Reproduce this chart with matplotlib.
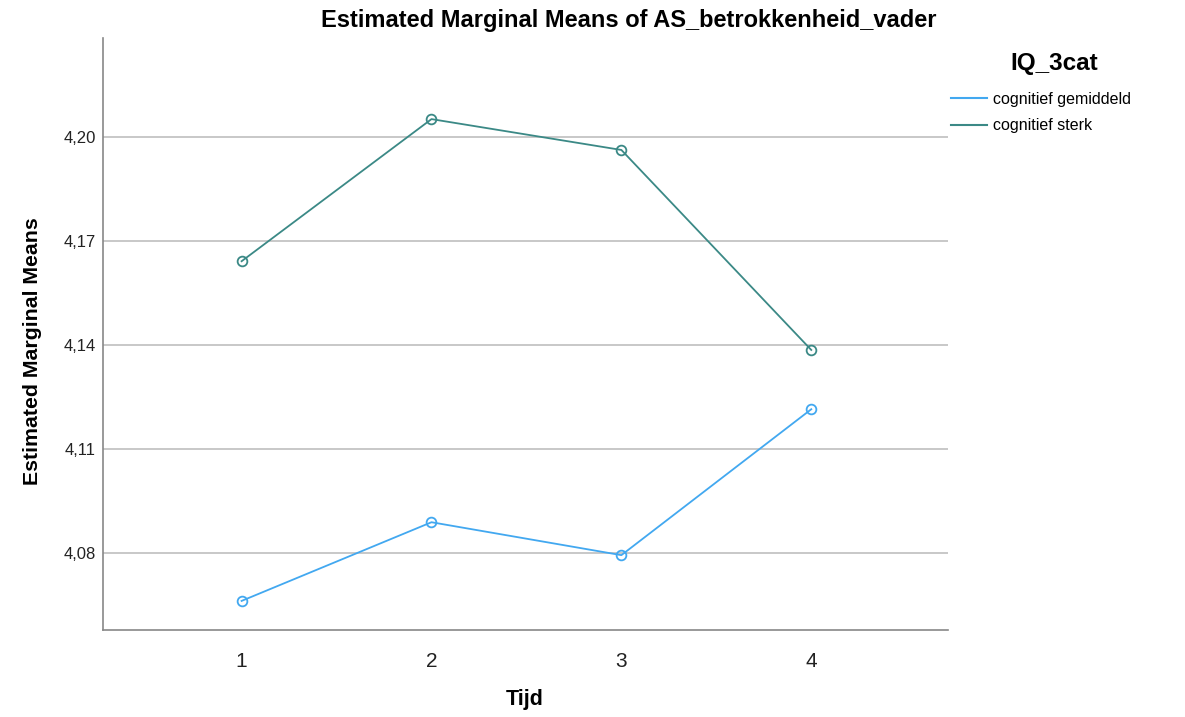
import matplotlib

matplotlib.use("Agg")
import matplotlib.pyplot as plt
from matplotlib.lines import Line2D
from matplotlib.ticker import FuncFormatter

plt.rcParams["font.family"] = ["Liberation Sans", "DejaVu Sans"]

tijd = [1, 2, 3, 4]
gemiddeld = [4.0662, 4.0889, 4.0794, 4.1215]
sterk = [4.1642, 4.2052, 4.1963, 4.1386]
y_ticks = [4.08, 4.11, 4.14, 4.17, 4.20]

series = [
    ("cognitief gemiddeld", gemiddeld, "#42a8f0"),
    ("cognitief sterk", sterk, "#3b8986"),
]

fig = plt.figure(figsize=(11.85, 7.17), dpi=100)
ax = fig.add_axes([0.0869, 0.1213, 0.7131, 0.8257])

handles = []
for label, values, color in series:
    ax.plot(
        tijd,
        values,
        color=color,
        linewidth=1.3,
        marker="o",
        markersize=7,
        markerfacecolor="none",
        markeredgecolor=color,
        markeredgewidth=1.3,
    )
    handles.append(Line2D([], [], color=color, linewidth=1.5, label=label))

ax.set_xlim(0.27, 4.72)
ax.set_ylim(4.0578, 4.2286)
ax.set_xticks(tijd)
ax.set_yticks(y_ticks)
ax.yaxis.set_major_formatter(FuncFormatter(lambda v, _: f"{v:.2f}".replace(".", ",")))
ax.tick_params(axis="both", length=0, colors="#222222")
ax.tick_params(axis="x", labelsize=15, pad=16)
ax.tick_params(axis="y", labelsize=12, pad=5)
ax.grid(axis="y", color="#c8c8c8", linewidth=1.4)
ax.set_axisbelow(True)

for side in ["top", "right"]:
    ax.spines[side].set_visible(False)
for side in ["left", "bottom"]:
    ax.spines[side].set_color("#888888")
    ax.spines[side].set_linewidth(1.2)

fig.text(
    0.531,
    0.972,
    "Estimated Marginal Means of AS_betrokkenheid_vader",
    fontsize=17,
    fontweight="bold",
    ha="center",
    va="center",
)
ax.set_xlabel("Tijd", fontsize=15.5, fontweight="bold", va="center")
ax.xaxis.set_label_coords(0.4995, -0.118)
ax.set_ylabel("Estimated Marginal Means", fontsize=15.3, fontweight="bold", va="center")
ax.yaxis.set_label_coords(-0.083, 0.471)

fig.text(0.890, 0.912, "IQ_3cat", fontsize=17.5, fontweight="bold", ha="center", va="center")
fig.legend(
    handles=handles,
    loc="upper left",
    bbox_to_anchor=(0.8025, 0.872),
    frameon=False,
    fontsize=11.5,
    handlelength=2.25,
    handletextpad=0.4,
    labelspacing=0.72,
    borderaxespad=0,
    borderpad=0,
)

fig.savefig("out.png", dpi=100)
